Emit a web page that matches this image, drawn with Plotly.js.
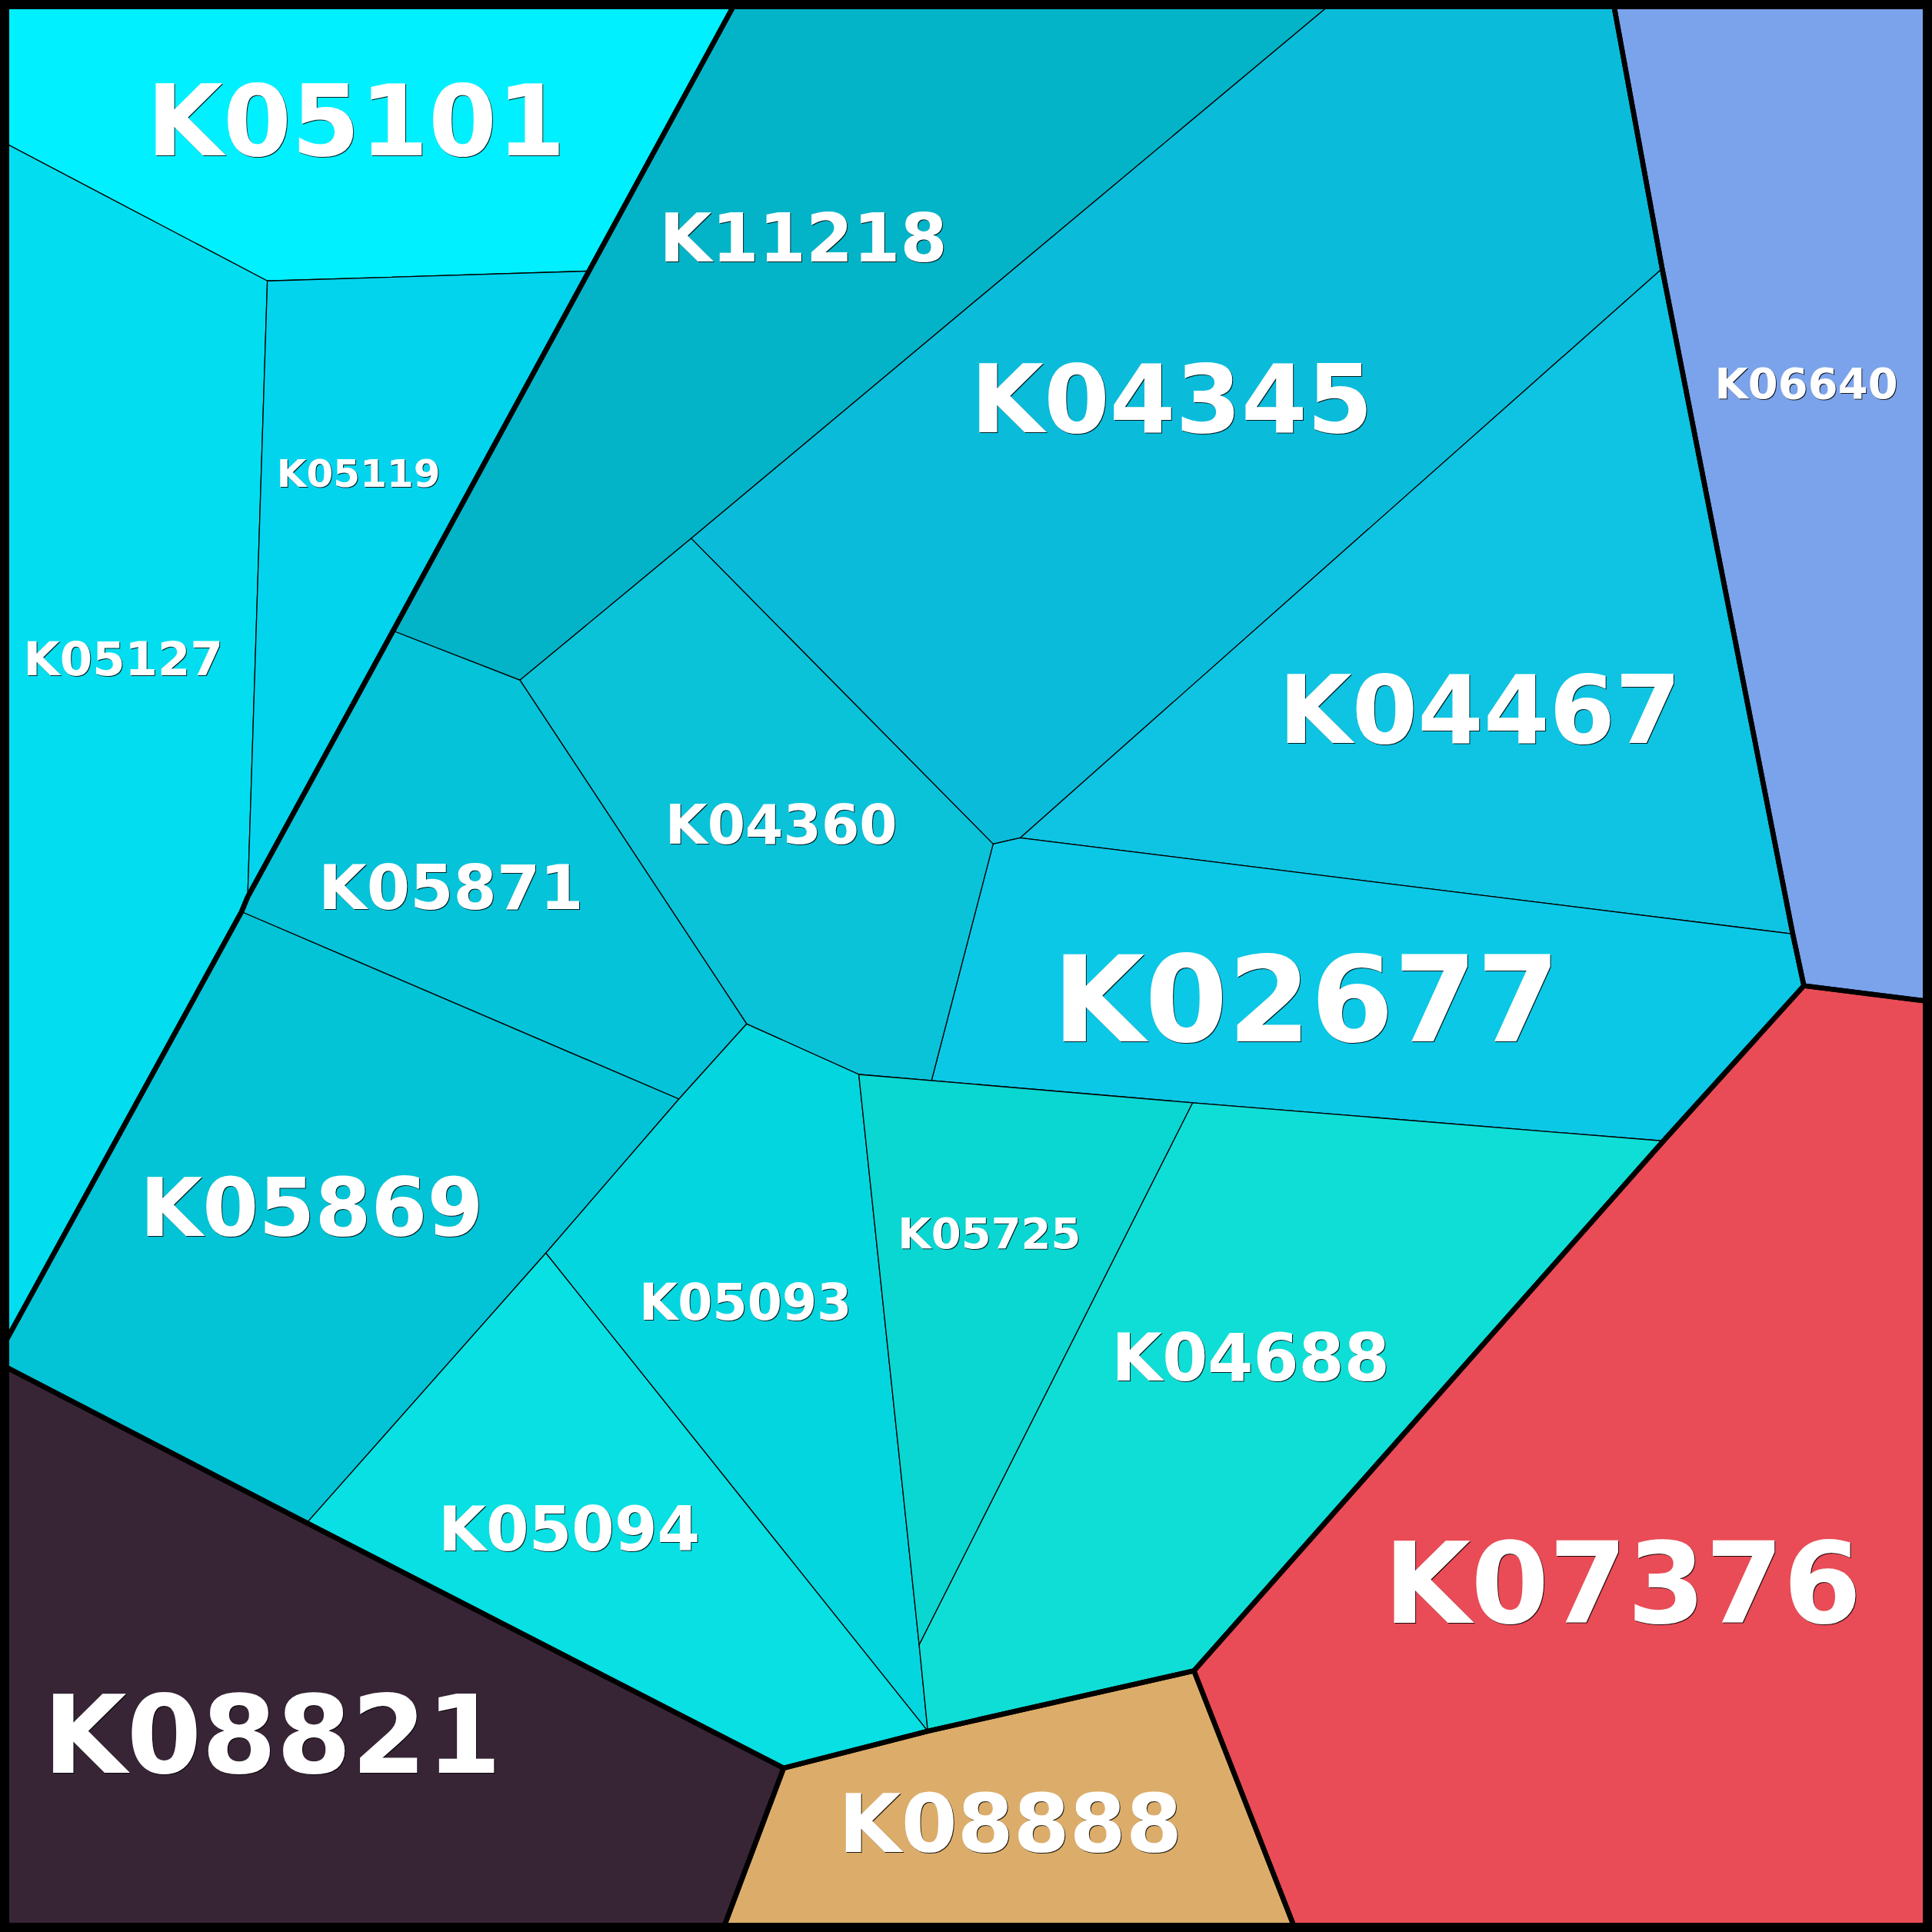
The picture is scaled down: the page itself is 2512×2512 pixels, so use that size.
<!DOCTYPE html>
<html>
<head>
<meta charset="utf-8">
<script src="https://cdn.plot.ly/plotly-3.0.1.min.js"></script>
<style>html,body{margin:0;padding:0;background:#fff}</style>
</head>
<body>
<div id="chart" style="width:2512px;height:2512px"></div>
<script>
// ---- data: cell names, their groups and colours ----
const cellNames = ["K05101","K05127","K05119","K11218","K04345","K06640","K04467","K02677","K04360",
                   "K05871","K05869","K05093","K05725","K04688","K05094","K08821","K08888","K07376"];
const cellGroups = ["G1","G1","G1","G2","G2","G3","G2","G2","G2","G2","G2","G2","G2","G2","G2","G6","G5","G4"];
const cellColors = ["#00F0FF","#02DEEF","#02D4EE","#03B4C8","#0ABCDA","#7BA3EB","#0EC4E2","#0BC8E6","#0AC3D9",
                    "#05C3D9","#02C4D6","#04D6E0","#0AD6D2","#0FDED7","#08E0E3","#372536","#DCAD6A","#E94C56"];

// ---- geometry: shared vertices of the Voronoi cells (plot units, 0..1568, y down) ----
const vertexIds = ["ctl","ctr","cbr","cbl","t1","t2","t3","l1","l2","l3","r1","b1","b2",
                   "A","B","C","D","E","F","G","H","I","J","K","L","M","N","O","P","Q","R","S","T","U","V","W","X"];
const vertexX = [0,1568,1568,0,598,1084,1309,0,0,0,1568,586,1052,
                 217,478,319,201,196,561,422,1349,1455,1464,828,806,756,697,606,551,443,249,968,1350,969,753,746,636];
const vertexY = [0,0,1568,1568,0,0,0,114,1097,1107,813,1568,1568,
                 228,220,512,728,740,437,552,218,758,800,680,685,877,872,831,892,1017,1236,895,926,1356,1405,1335,1435];
const cellVertices = [
  ["ctl","t1","B","A","l1"],          // K05101
  ["l1","A","D","E","l2"],            // K05127
  ["A","B","C","D"],                  // K05119
  ["t1","t2","F","G","C","B"],        // K11218
  ["t2","t3","H","K","L","F"],        // K04345
  ["t3","ctr","r1","J","I","H"],      // K06640
  ["H","I","K"],                      // K04467
  ["K","I","J","T","S","M","L"],      // K02677
  ["F","L","M","N","O","G"],          // K04360
  ["C","G","O","P","E","D"],          // K05871
  ["E","P","Q","R","l3","l2"],        // K05869
  ["O","N","W","V","Q","P"],          // K05093
  ["N","M","S","W"],                  // K05725
  ["S","T","U","V","W"],              // K04688
  ["Q","V","X","R"],                  // K05094
  ["l3","R","X","b1","cbl"],          // K08821
  ["X","V","U","b2","b1"],            // K08888
  ["U","T","J","r1","cbr","b2"]       // K07376
];

// ---- label placement and sizes ----
const labelX = [289,100,291,652,951,1466,1201,1060,634,366,253,605,803,1015,462,221,820,1317];
const labelY = [98,535,384,193,324,311,576,811,669,720,980,1057,1001,1102,1241,1408,1480,1285];
const labelSize = [128,61,50,88,123,56,123,155,71,81,105,65,56,85,80,140,105,146];

const vx = {}, vy = {};
vertexIds.forEach((id, i) => { vx[id] = vertexX[i]; vy[id] = vertexY[i]; });

const traces = [];
cellNames.forEach((name, i) => {
  const ids = cellVertices[i].concat([cellVertices[i][0]]);
  traces.push({
    type: "scatter", mode: "lines", fill: "toself",
    x: ids.map(id => vx[id]), y: ids.map(id => vy[id]),
    fillcolor: cellColors[i],
    line: {color: "#000", width: 1.3},
    hoverinfo: "text", text: name, name: name, showlegend: false
  });
});

// group outlines: edges not shared by two cells of the same group
const groupNames = Array.from(new Set(cellGroups));
groupNames.forEach(g => {
  const count = {};
  cellNames.forEach((n, i) => {
    if (cellGroups[i] !== g) return;
    const v = cellVertices[i];
    for (let k = 0; k < v.length; k++) {
      const a = v[k], b = v[(k + 1) % v.length];
      const key = a < b ? a + "|" + b : b + "|" + a;
      count[key] = (count[key] || 0) + 1;
    }
  });
  const xs = [], ys = [];
  Object.keys(count).forEach(key => {
    if (count[key] !== 1) return;
    const [a, b] = key.split("|");
    xs.push(vx[a], vx[b], null); ys.push(vy[a], vy[b], null);
  });
  traces.push({type: "scatter", mode: "lines", x: xs, y: ys,
    line: {color: "#000", width: 6.5}, hoverinfo: "skip", showlegend: false, connectgaps: false});
});

// vertical baseline correction for text (≈0.1 em), converted to plot units
const unitPerPx = 1568 / 2512;
traces.push({
  type: "scatter", mode: "text",
  x: labelX, y: labelY.map((y, i) => y + 0.1 * labelSize[i] * unitPerPx), text: cellNames,
  textposition: "middle center",
  textfont: {family: "DejaVu Sans", weight: 700, color: "#fff", size: labelSize,
             shadow: "1px 1px 0px rgba(0,0,0,0.85)"},
  hoverinfo: "skip", showlegend: false, cliponaxis: false
});

const layout = {
  width: 2512, height: 2512,
  margin: {l: 0, r: 0, t: 0, b: 0, pad: 0},
  paper_bgcolor: "#fff", plot_bgcolor: "#fff",
  xaxis: {range: [0, 1568], visible: false, fixedrange: true},
  yaxis: {range: [1568, 0], visible: false, fixedrange: true},
  showlegend: false,
  shapes: [{type: "rect", xref: "paper", yref: "paper", x0: 0, x1: 1, y0: 0, y1: 1,
            line: {color: "#000", width: 24}, fillcolor: "rgba(0,0,0,0)"}]
};
Plotly.newPlot("chart", traces, layout, {staticPlot: true, displayModeBar: false});
</script>
</body>
</html>
